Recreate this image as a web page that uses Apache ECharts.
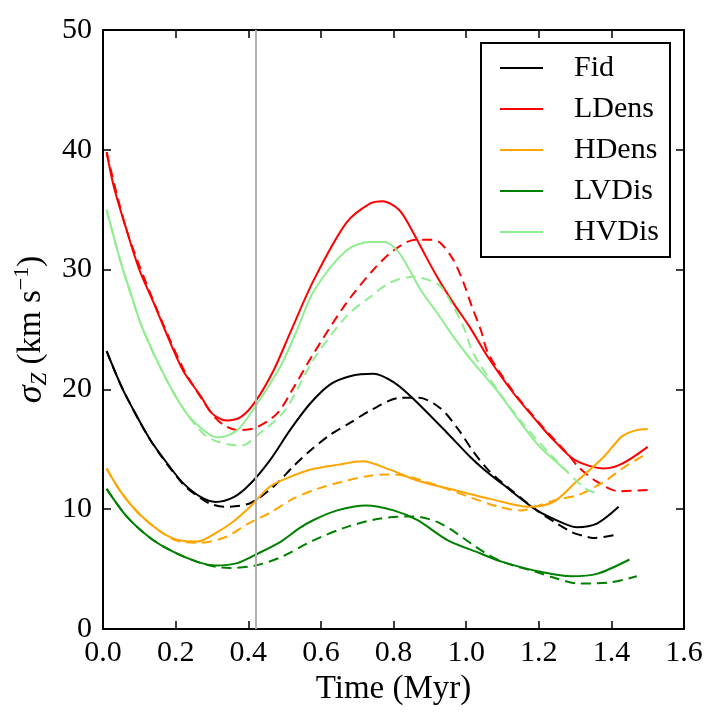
<!DOCTYPE html>
<html>
<head>
<meta charset="utf-8">
<script src="https://cdn.jsdelivr.net/npm/echarts@6/dist/echarts.min.js"></script>
<style>
  html, body { margin: 0; padding: 0; background: #fff; }
  #chart { width: 719px; height: 728px; }
</style>
</head>
<body>
<div id="chart"></div>
<script>
// time (Myr) vs sigma_Z (km/s); solid = run A, dashed = run B
const names = ['Fid', 'LDens', 'HDens', 'LVDis', 'HVDis'];
const colors = ['#000000', '#ff0000', '#ffa500', '#008000', '#90ee90'];
const refTime = 0.42;

const fidSolid = [[0.01,23.2],[0.05,20.3],[0.08,18.5],[0.13,15.8],[0.18,13.7],[0.22,12.2],[0.27,11.0],[0.31,10.6],[0.36,11.0],[0.405,12.1],[0.46,14.1],[0.515,16.6],[0.57,18.8],[0.625,20.4],[0.68,21.1],[0.745,21.3],[0.80,20.6],[0.855,19.2],[0.95,16.3],[1.01,14.4],[1.05,13.3],[1.10,12.1],[1.195,9.9],[1.27,8.8],[1.305,8.5],[1.36,8.8],[1.42,10.2]];
const fidDash = [[0.01,23.2],[0.05,20.3],[0.13,15.8],[0.22,12.1],[0.27,10.9],[0.30,10.4],[0.336,10.2],[0.405,10.5],[0.47,11.9],[0.525,13.6],[0.575,15.0],[0.625,16.2],[0.68,17.2],[0.74,18.3],[0.82,19.3],[0.87,19.3],[0.93,18.4],[0.98,16.6],[1.02,14.8],[1.06,13.3],[1.10,12.2],[1.195,9.9],[1.25,8.8],[1.29,8.1],[1.32,7.8],[1.35,7.6],[1.42,7.9]];

const ldensSolid = [[0.01,39.8],[0.03,36.9],[0.065,33.3],[0.10,30.0],[0.14,27.2],[0.17,25.0],[0.22,21.6],[0.27,19.4],[0.30,18.0],[0.34,17.4],[0.38,17.7],[0.42,19.0],[0.47,21.6],[0.515,24.7],[0.58,29.1],[0.67,33.9],[0.735,35.5],[0.77,35.7],[0.815,35.0],[0.845,33.6],[0.875,31.9],[0.92,29.4],[0.965,27.2],[1.01,25.2],[1.06,22.7],[1.13,19.7],[1.21,16.8],[1.24,15.8],[1.30,14.1],[1.38,13.4],[1.43,13.8],[1.50,15.2]];
const ldensDash = [[0.01,39.8],[0.065,33.3],[0.14,27.3],[0.22,21.8],[0.27,19.3],[0.31,17.6],[0.34,16.9],[0.37,16.6],[0.42,16.8],[0.48,18.0],[0.52,19.9],[0.58,23.0],[0.67,27.2],[0.745,30.0],[0.80,31.6],[0.86,32.5],[0.905,32.5],[0.93,32.2],[0.965,30.8],[0.993,28.9],[1.016,26.9],[1.04,25.0],[1.061,23.0],[1.13,19.8],[1.21,16.9],[1.28,14.6],[1.31,13.5],[1.36,12.3],[1.42,11.5],[1.50,11.6]];

const hdensSolid = [[0.01,13.4],[0.05,11.4],[0.10,9.6],[0.16,8.1],[0.21,7.4],[0.26,7.3],[0.31,8.0],[0.36,9.0],[0.405,10.2],[0.46,11.9],[0.515,12.7],[0.57,13.3],[0.645,13.7],[0.715,14.0],[0.79,13.3],[0.865,12.4],[0.98,11.5],[1.075,10.8],[1.17,10.2],[1.24,10.6],[1.30,12.2],[1.38,14.4],[1.43,16.1],[1.47,16.6],[1.50,16.7]];
const hdensDash = [[0.01,13.4],[0.05,11.4],[0.10,9.6],[0.16,8.1],[0.21,7.3],[0.27,7.2],[0.34,7.7],[0.40,8.8],[0.46,9.7],[0.525,10.9],[0.59,11.7],[0.66,12.3],[0.735,12.8],[0.79,12.9],[0.83,12.8],[0.92,12.0],[1.01,11.0],[1.09,10.2],[1.15,9.9],[1.20,10.3],[1.25,10.8],[1.31,11.2],[1.38,12.3],[1.43,13.4],[1.50,14.7]];

const lvdisSolid = [[0.01,11.7],[0.065,9.4],[0.13,7.6],[0.19,6.5],[0.26,5.6],[0.31,5.3],[0.37,5.5],[0.42,6.2],[0.49,7.3],[0.54,8.4],[0.58,9.1],[0.645,9.9],[0.725,10.3],[0.80,9.9],[0.865,9.1],[0.95,7.4],[1.04,6.3],[1.10,5.6],[1.20,4.8],[1.29,4.4],[1.36,4.6],[1.45,5.8]];
const lvdisDash = [[0.01,11.7],[0.065,9.4],[0.13,7.6],[0.19,6.5],[0.26,5.6],[0.31,5.2],[0.35,5.1],[0.42,5.3],[0.49,6.0],[0.58,7.4],[0.67,8.5],[0.76,9.2],[0.855,9.4],[0.93,8.8],[1.02,7.0],[1.05,6.4],[1.10,5.6],[1.20,4.7],[1.24,4.3],[1.31,3.8],[1.40,3.9],[1.47,4.4]];

const hvdisSolid = [[0.01,35.0],[0.05,30.5],[0.08,27.7],[0.11,25.0],[0.175,20.8],[0.23,18.0],[0.29,16.3],[0.32,16.0],[0.37,16.6],[0.42,18.6],[0.49,22.0],[0.535,25.0],[0.58,28.2],[0.67,31.6],[0.735,32.3],[0.775,32.3],[0.81,31.6],[0.84,30.2],[0.875,28.3],[0.92,26.4],[0.965,24.4],[1.01,22.6],[1.085,19.9],[1.16,16.8],[1.20,15.3],[1.25,13.9],[1.28,13.1]];
const hvdisDash = [[0.01,35.0],[0.05,30.5],[0.11,25.0],[0.175,20.8],[0.23,18.0],[0.28,16.2],[0.32,15.6],[0.38,15.3],[0.43,16.3],[0.50,18.2],[0.58,22.5],[0.67,26.1],[0.735,27.7],[0.79,28.9],[0.855,29.4],[0.90,29.1],[0.93,28.6],[0.965,26.9],[0.993,25.2],[1.02,23.0],[1.085,20.0],[1.16,17.0],[1.25,14.0],[1.33,11.7],[1.37,11.3]];

const solidRuns = [fidSolid, ldensSolid, hdensSolid, lvdisSolid, hvdisSolid];
const dashRuns = [fidDash, ldensDash, hdensDash, lvdisDash, hvdisDash];

const FONT = 'Liberation Serif';

function lineSeries(name, data, color, dashed) {
  return {
    type: 'line',
    name: name,
    data: data,
    smooth: 0.3,
    symbol: 'none',
    showSymbol: false,
    silent: true,
    lineStyle: { color: color, width: 2, type: dashed ? [10, 6] : 'solid' },
    itemStyle: { color: color },
    emphasis: { disabled: true },
    z: 3
  };
}

const series = [{
  type: 'line',
  name: 'ref',
  data: [],
  z: 1,
  markLine: {
    silent: true,
    symbol: 'none',
    label: { show: false },
    lineStyle: { color: '#b0b0b0', width: 2, type: 'solid' },
    data: [{ xAxis: refTime }]
  }
}];
names.forEach((n, i) => {
  series.push(lineSeries(n, solidRuns[i], colors[i], false));
  series.push(lineSeries(n + ' (b)', dashRuns[i], colors[i], true));
});

const tickStyle = { show: true, inside: true, length: 8, lineStyle: { color: '#000', width: 1.5 } };
const lineAx = { show: true, onZero: false, lineStyle: { color: '#000', width: 2 } };
const labelStyle = { fontFamily: FONT, fontSize: 30, color: '#000' };

const chart = echarts.init(document.getElementById('chart'), null, { renderer: 'canvas' });
chart.setOption({
  animation: false,
  backgroundColor: '#fff',
  grid: { left: 103, right: 35, top: 30, bottom: 99 },
  legend: {
    data: names,
    orient: 'vertical',
    left: 481,
    top: 43,
    icon: 'rect',
    itemWidth: 43,
    itemHeight: 2,
    itemGap: 11,
    padding: [10, 11, 10, 19],
    borderColor: '#000',
    borderWidth: 2,
    backgroundColor: '#fff',
    selectedMode: false,
    textStyle: { fontFamily: FONT, fontSize: 30, color: '#000', lineHeight: 30, padding: [0, 0, 0, 26] }
  },
  xAxis: [{
    type: 'value', min: 0, max: 1.6, interval: 0.2,
    name: 'Time (Myr)', nameLocation: 'middle', nameGap: 44,
    nameTextStyle: { fontFamily: FONT, fontSize: 33, color: '#000' },
    axisLine: lineAx, axisTick: tickStyle,
    axisLabel: Object.assign({ margin: 9, formatter: v => v.toFixed(1) }, labelStyle),
    splitLine: { show: false }
  }, {
    type: 'value', position: 'top', min: 0, max: 1.6, interval: 0.2,
    axisLine: lineAx, axisTick: tickStyle, axisLabel: { show: false }, splitLine: { show: false }
  }],
  yAxis: [{
    type: 'value', min: 0, max: 50, interval: 10,
    name: '{i|σ}{sub|Z}{n| (km s}{sup|−1}{n|)}',
    nameLocation: 'middle', nameRotate: 90, nameGap: 38,
    nameTextStyle: {
      fontFamily: FONT, fontSize: 33, color: '#000',
      rich: {
        i: { fontFamily: FONT, fontSize: 36, fontStyle: 'italic', lineHeight: 40, verticalAlign: 'middle' },
        sub: { fontFamily: FONT, fontSize: 23, fontStyle: 'italic', lineHeight: 40, verticalAlign: 'bottom' },
        n: { fontFamily: FONT, fontSize: 33, lineHeight: 40, verticalAlign: 'middle' },
        sup: { fontFamily: FONT, fontSize: 22, lineHeight: 40, verticalAlign: 'top' }
      }
    },
    axisLine: lineAx, axisTick: tickStyle,
    axisLabel: Object.assign({ margin: 11 }, labelStyle),
    splitLine: { show: false }
  }, {
    type: 'value', position: 'right', min: 0, max: 50, interval: 10,
    axisLine: lineAx, axisTick: tickStyle, axisLabel: { show: false }, splitLine: { show: false }
  }],
  series: series
});
</script>
</body>
</html>
